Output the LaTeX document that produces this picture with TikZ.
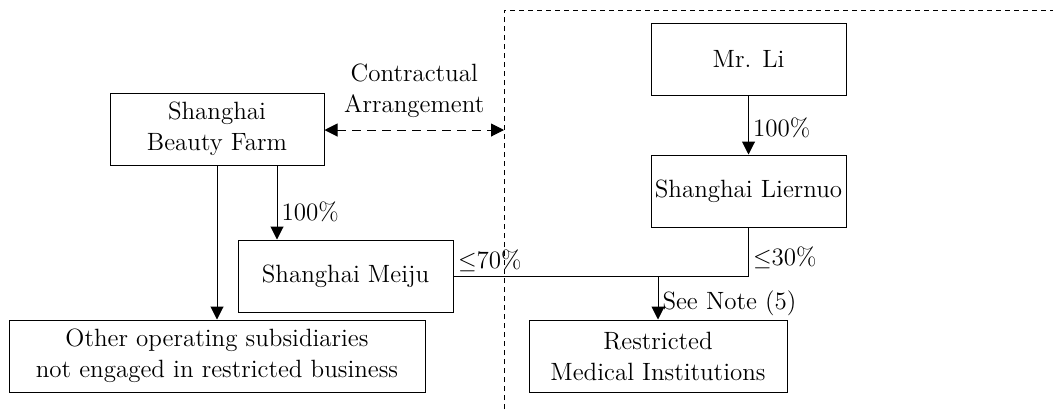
\documentclass[tikz,border=0pt]{standalone}
\usetikzlibrary{arrows.meta}

\begin{document}
\begin{tikzpicture}[x=0.5pt,y=-0.5pt,line width=0.5pt,font=\fontsize{12.5}{15.5}\selectfont]
        \tikzstyle{entity}=[draw,align=center,minimum height=36pt,inner sep=1pt]
        \tikzstyle{arr}=[-{Triangle[length=6.5pt,width=6.5pt]}]
        \tikzstyle{lbl}=[inner sep=2pt]
        \useasboundingbox (0,0) rectangle (1053,409);
        \node[entity,minimum width=107pt] (sbf) at (217,129) {Shanghai\\Beauty Farm};
        \node[entity,minimum width=97.5pt] (li) at (748.5,59) {Mr. Li};
        \node[entity,minimum width=97.5pt] (liernuo) at (748.5,191) {Shanghai Liernuo};
        \node[entity,minimum width=107.5pt] (meiju) at (345.5,276) {Shanghai Meiju};
        \node[entity,minimum width=208pt] (other) at (217,356) {Other operating subsidiaries\\not engaged in restricted business};
        \node[entity,minimum width=129pt] (rmi) at (658,356) {Restricted\\Medical Institutions};
        % boundary of the restricted part
        \draw[dash pattern=on 2.5pt off 2pt] (504,409) -- (504,10) -- (1053,10);
        \coordinate (bnd) at (504,130);
        \draw[{Triangle[length=6.5pt,width=6.5pt]}-{Triangle[length=6.5pt,width=6.5pt]},dash pattern=on 4.5pt off 3pt]
          (sbf.east |- bnd) -- node[lbl,above,align=center,yshift=4pt]{Contractual\\Arrangement} (bnd);
        \draw[arr] (sbf.south) -- (other.north);
        \draw[arr] ([xshift=30pt]sbf.south) -- node[lbl,right,pos=0.62]{100\%} ([xshift=30pt]sbf.south |- meiju.north);
        \draw[arr] (li.south) -- node[lbl,right,pos=0.55]{100\%} (liernuo.north);
        \draw (meiju.east) -- (meiju.east -| liernuo.south) -- node[lbl,right,pos=0.38]{$\leq$30\%} (liernuo.south);
        \node[lbl,above right] at (meiju.east) {$\leq$70\%};
        \coordinate (j) at (meiju.east -| rmi.north);
        \draw[arr] (j) -- node[lbl,right,pos=0.62]{See Note (5)} (rmi.north);
\end{tikzpicture}
\end{document}
